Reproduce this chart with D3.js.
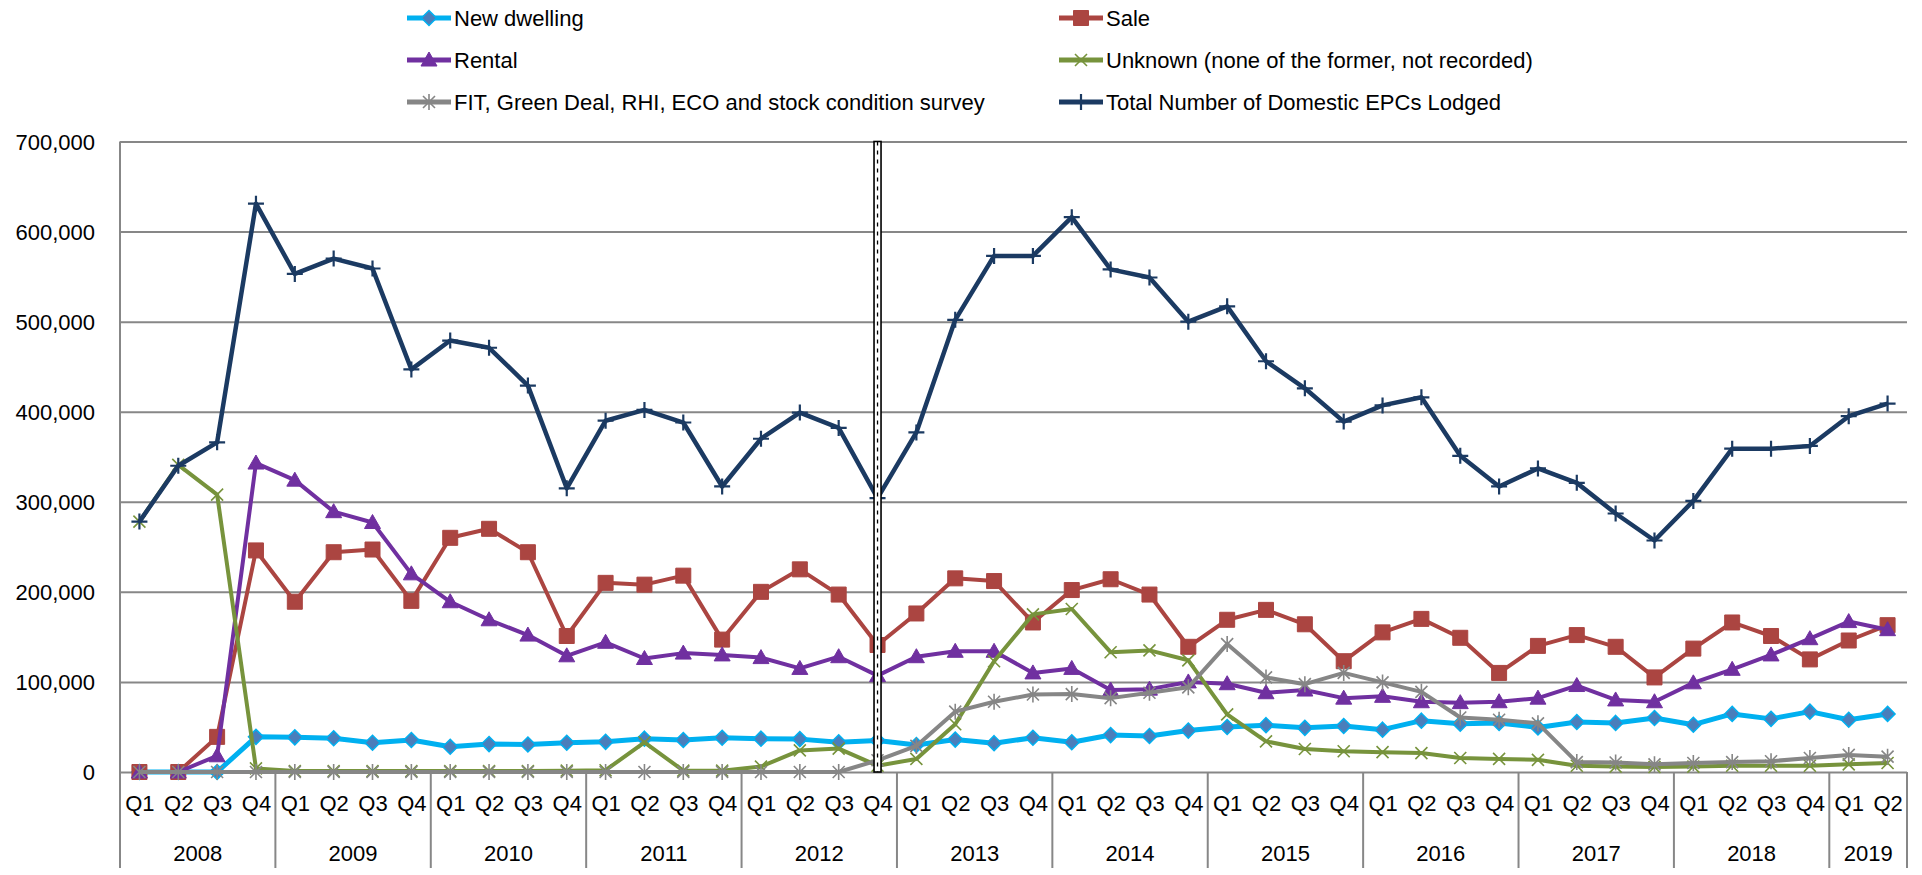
<!DOCTYPE html>
<html><head><meta charset="utf-8">
<script src="https://cdn.jsdelivr.net/npm/d3@7"></script>
<style>
body{margin:0;background:#fff}
svg{display:block}
</style>
</head><body>
<svg id="c" width="1922" height="875"></svg>
<script>
// ---------- DATA ----------
const quarters = ["Q1","Q2","Q3","Q4","Q1","Q2","Q3","Q4","Q1","Q2","Q3","Q4","Q1","Q2","Q3","Q4",
  "Q1","Q2","Q3","Q4","Q1","Q2","Q3","Q4","Q1","Q2","Q3","Q4","Q1","Q2","Q3","Q4",
  "Q1","Q2","Q3","Q4","Q1","Q2","Q3","Q4","Q1","Q2","Q3","Q4","Q1","Q2"];
const years = ["2008","2009","2010","2011","2012","2013","2014","2015","2016","2017","2018","2019"];
const quartersPerYear = [4,4,4,4,4,4,4,4,4,4,4,2];
const yTicks = [0,100000,200000,300000,400000,500000,600000,700000];
const dividerIndex = 19; // 2012 Q4

const newDwelling = [0,0,0,39000,38500,37500,32500,35500,28000,31000,30500,32500,33500,37000,35500,38000,
  37000,36500,33000,35000,30000,36000,32000,38000,33000,41000,40000,46000,50000,52000,49000,51000,
  47000,57000,53500,54500,49500,55500,54500,60000,52500,64500,59000,67000,58000,64500];
const sale = [0,0,39000,246000,189000,244000,247000,190000,260000,270000,244000,151000,210000,208000,218000,147000,
  200000,225000,197000,141000,176000,215000,212000,166000,202000,214000,197000,139000,169000,180000,164000,123000,
  155000,170000,149000,110000,140000,152000,139000,105000,137000,166000,151000,125000,146000,163000];
const rental = [0,0,18000,343000,324000,289000,277000,220000,189000,169000,152000,129000,144000,126000,132000,130000,
  127000,115000,128000,107000,128000,134000,134000,110000,115000,91000,92000,100000,98000,88000,91000,82000,
  84000,78000,77000,78000,82000,96000,80000,78000,99000,114000,130000,148000,167000,158000];
const unknown = [278000,341000,308000,4000,1000,1000,1000,1000,1000,1000,1000,1500,2000,33000,1500,1500,
  6000,24000,26000,7000,14500,53000,123000,175000,181000,133000,135000,124000,64000,34000,25500,23000,
  22000,21000,15500,14500,13500,7000,6000,5500,6000,7000,7000,7000,8500,10000];
const fitGreenDeal = [0,0,0,0,0,0,0,0,0,0,0,0,0,0,0,0,
  0,0,0,13000,29000,67000,78000,86000,86500,82000,88000,94000,142000,105000,97500,110000,
  99500,89000,60500,58000,54000,11000,10500,8500,10000,11000,12000,15500,19000,17000];
const totalEPCs = [278000,340000,366000,631000,553000,570000,559000,447000,479000,471000,429000,315000,390000,402000,388000,317000,
  370000,399000,382000,304000,377000,502000,573000,573000,616000,558000,549000,500000,517000,456000,426000,389000,
  407000,416000,351000,317000,337000,321000,287000,257000,301000,359000,359000,362000,395000,409000];
const seriesNames = ["New dwelling","Sale","Rental","Unknown (none of the former, not recorded)",
  "FIT, Green Deal, RHI, ECO and stock condition survey","Total Number of Domestic EPCs Lodged"];

// ---------- LAYOUT / STYLE ----------
const FONT = "'Liberation Sans', Arial, sans-serif";
const plotLeft = 120, plotRight = 1907, plotTop = 141.5, plotZero = 772, plotBottom = 868;
const gridColor = "#878787";

const svg = d3.select("#c");
const x = d3.scalePoint().domain(d3.range(quarters.length)).range([plotLeft, plotRight]).padding(0.5);
const y = d3.scaleLinear().domain([0, 700000]).range([plotZero, plotTop]);
const step = x.step();

// marker shapes (relative geometry)
const shapes = {
  diamond: "M0,-7.5L7.5,0L0,7.5L-7.5,0Z",
  square: "M-7.5,-7.5h15v15h-15Z",
  triangle: "M0,-8L8,6L-8,6Z",
  x: "M-6,-6L6,6M-6,6L6,-6",
  asterisk: "M-6,-6L6,6M-6,6L6,-6M0,-8L0,8",
  plus: "M-8,0H8M0,-8V8"
};

const styles = [
  {color:"#00b0f0", width:5, shape:"diamond", fill:"#4a7ebb", stroke:"#00b0f0", sw:1.5},
  {color:"#ab4541", width:4, shape:"square", fill:"#ab4541", stroke:"#ab4541", sw:1},
  {color:"#7030a0", width:4, shape:"triangle", fill:"#7030a0", stroke:"#7030a0", sw:1},
  {color:"#77933c", width:4, shape:"x", fill:"none", stroke:"#77933c", sw:1.6},
  {color:"#868686", width:4, shape:"asterisk", fill:"none", stroke:"#868686", sw:1.6},
  {color:"#1b3a62", width:4.5, shape:"plus", fill:"none", stroke:"#1b3a62", sw:2.2}
];
const allSeries = [newDwelling, sale, rental, unknown, fitGreenDeal, totalEPCs];

// gridlines
svg.append("g").attr("transform", `translate(${plotLeft},0)`)
  .call(d3.axisLeft(y).tickValues(yTicks).tickSize(-(plotRight - plotLeft)).tickFormat(""))
  .call(g => g.select(".domain").remove())
  .call(g => g.selectAll("line").attr("stroke", gridColor).attr("stroke-width", 2));

// y labels
svg.append("g").attr("transform", `translate(${plotLeft},0)`)
  .call(d3.axisLeft(y).tickValues(yTicks).tickSize(0).tickPadding(25).tickFormat(d3.format(",")))
  .call(g => g.select(".domain").remove())
  .attr("font-family", FONT).attr("font-size", 22)
  .call(g => g.selectAll("text").attr("fill", "#000").attr("dy", "0.36em"));

// left axis line
svg.append("line").attr("x1", plotLeft).attr("x2", plotLeft).attr("y1", plotTop).attr("y2", plotBottom)
  .attr("stroke", gridColor).attr("stroke-width", 2);

// quarter labels
svg.append("g").attr("transform", `translate(0,${plotZero})`)
  .call(d3.axisBottom(x).tickSize(0).tickPadding(23).tickFormat(i => quarters[i]))
  .call(g => g.select(".domain").remove())
  .attr("font-family", FONT).attr("font-size", 22)
  .call(g => g.selectAll("text").attr("fill", "#000"));

// year separators & labels
const cum = [0];
quartersPerYear.forEach(n => cum.push(cum[cum.length - 1] + n));
const edgeX = idx => idx < quarters.length ? x(idx) - step / 2 : x(quarters.length - 1) + step / 2;
svg.append("g").selectAll("line").data(cum).join("line")
  .attr("x1", d => edgeX(d)).attr("x2", d => edgeX(d))
  .attr("y1", plotZero).attr("y2", plotBottom)
  .attr("stroke", gridColor).attr("stroke-width", 2);
svg.append("g").selectAll("text").data(years).join("text")
  .attr("x", (d, i) => (edgeX(cum[i]) + edgeX(cum[i + 1])) / 2)
  .attr("y", 860.5)
  .attr("text-anchor", "middle")
  .attr("font-family", FONT).attr("font-size", 22).attr("fill", "#000")
  .text(d => d);

// series
const line = d3.line().x((d, i) => x(i)).y(d => y(d));
allSeries.forEach((vals, si) => {
  const st = styles[si];
  const g = svg.append("g");
  g.append("path").datum(vals).attr("d", line)
    .attr("fill", "none").attr("stroke", st.color).attr("stroke-width", st.width)
    .attr("stroke-linejoin", "round");
  g.selectAll("path.m").data(vals).join("path").attr("class", "m")
    .attr("transform", (d, i) => `translate(${x(i)},${y(d)})`)
    .attr("d", shapes[st.shape])
    .attr("fill", st.fill).attr("stroke", st.stroke).attr("stroke-width", st.sw);
});

// divider at 2012 Q4
const dx = x(dividerIndex);
svg.append("rect").attr("x", dx - 3.5).attr("y", plotTop).attr("width", 7).attr("height", plotZero - plotTop)
  .attr("fill", "#fff").attr("stroke", "#000").attr("stroke-width", 1.6);
svg.append("line").attr("x1", dx).attr("x2", dx).attr("y1", plotTop).attr("y2", plotZero)
  .attr("stroke", "#000").attr("stroke-width", 1.3).attr("stroke-dasharray", "4,5");

// legend
const legX = [407, 1059], legY = [18, 60, 102];
const leg = svg.append("g").selectAll("g").data(seriesNames).join("g")
  .attr("transform", (d, i) => `translate(${legX[i % 2]},${legY[Math.floor(i / 2)]})`);
leg.append("line").attr("x1", 0).attr("x2", 44).attr("y1", 0).attr("y2", 0)
  .attr("stroke", (d, i) => styles[i].color).attr("stroke-width", 5);
leg.append("path").attr("transform", "translate(22,0)")
  .attr("d", (d, i) => shapes[styles[i].shape])
  .attr("fill", (d, i) => styles[i].fill).attr("stroke", (d, i) => styles[i].stroke)
  .attr("stroke-width", (d, i) => styles[i].sw);
leg.append("text").attr("x", 47).attr("y", 0).attr("dy", "0.36em")
  .attr("font-family", FONT).attr("font-size", 22).attr("fill", "#000")
  .text(d => d);
</script>
</body></html>
